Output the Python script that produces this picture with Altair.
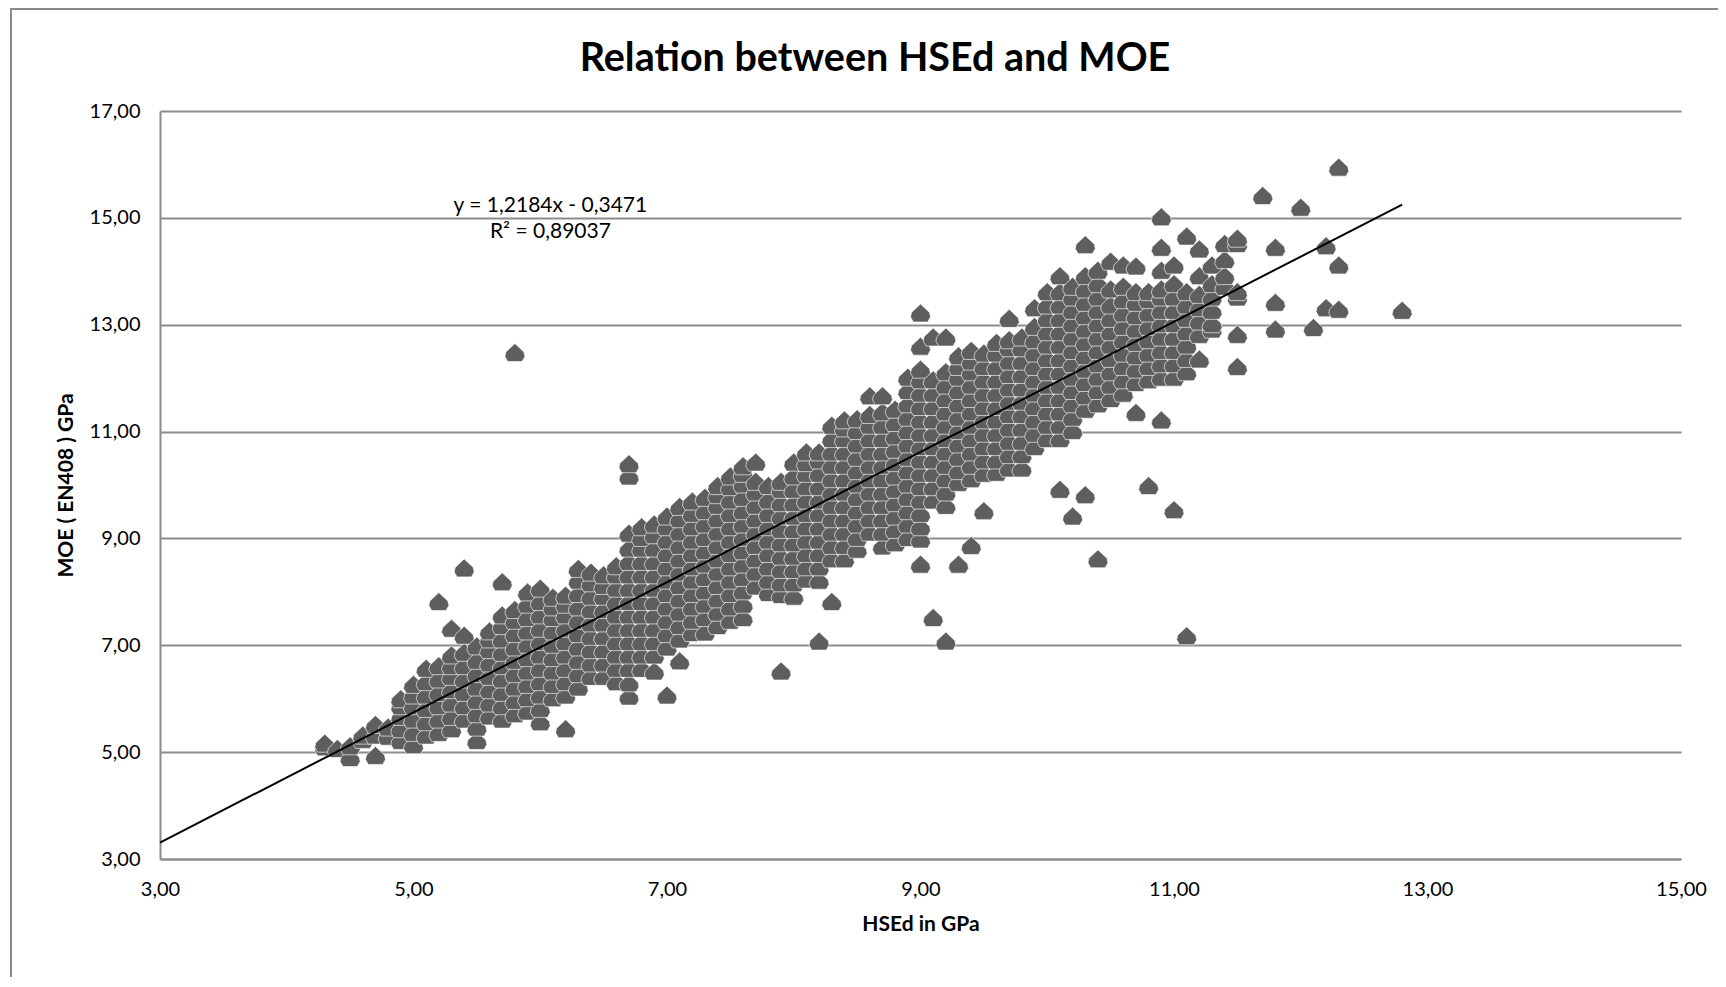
import altair as alt
import pandas as pd

# ---- data (HSEd column value -> MOE values) ----
hsed_columns = [4.3, 4.4, 4.5, 4.6, 4.7, 4.8, 4.9, 5.0, 5.1, 5.2, 5.3, 5.4, 5.5, 5.6, 5.7, 5.8, 5.9,
                6.0, 6.1, 6.2, 6.3, 6.4, 6.5, 6.6, 6.7, 6.8, 6.9, 7.0, 7.1, 7.2, 7.3, 7.4, 7.5, 7.6,
                7.7, 7.8, 7.9, 8.0, 8.1, 8.2, 8.3, 8.4, 8.5, 8.6, 8.7, 8.8, 8.9, 9.0, 9.1, 9.2, 9.3,
                9.4, 9.5, 9.6, 9.7, 9.8, 9.9, 10.0, 10.1, 10.2, 10.3, 10.4, 10.5, 10.6, 10.7, 10.8,
                10.9, 11.0, 11.1, 11.2, 11.3, 11.4, 11.5, 11.7, 11.8, 12.0, 12.1, 12.2, 12.3, 12.8]

moe_columns = [
    [5.08, 5.15],
    [5.05],
    [4.88, 5.10],
    [5.22, 5.30],
    [4.92, 5.30, 5.50],
    [5.28, 5.45],
    [5.20, 5.42, 5.65, 5.85, 5.98],
    [5.12, 5.35, 5.60, 5.85, 6.05, 6.25],
    [5.30, 5.55, 5.80, 6.05, 6.30, 6.55],
    [5.35, 5.60, 5.85, 6.10, 6.35, 6.60, 7.80],
    [5.42, 5.65, 5.90, 6.15, 6.40, 6.60, 6.80, 7.30],
    [5.60, 5.85, 6.10, 6.35, 6.60, 6.85, 7.17, 8.43],
    [5.20, 5.45, 5.70, 5.95, 6.20, 6.45, 6.70, 6.97],
    [5.66, 5.90, 6.15, 6.40, 6.65, 6.90, 7.10, 7.25],
    [5.60, 5.85, 6.10, 6.35, 6.60, 6.85, 7.10, 7.35, 7.55, 8.17],
    [5.70, 5.95, 6.20, 6.45, 6.70, 6.95, 7.20, 7.45, 7.65, 12.46],
    [5.75, 6.00, 6.25, 6.50, 6.75, 7.00, 7.25, 7.50, 7.75, 7.98],
    [5.55, 5.80, 6.05, 6.30, 6.55, 6.80, 7.05, 7.30, 7.55, 7.80, 8.05],
    [6.00, 6.25, 6.50, 6.75, 7.00, 7.25, 7.50, 7.70, 7.88],
    [5.42, 6.05, 6.30, 6.55, 6.80, 7.05, 7.30, 7.55, 7.75, 7.92],
    [6.20, 6.45, 6.70, 6.95, 7.20, 7.45, 7.70, 7.95, 8.20, 8.42],
    [6.40, 6.65, 6.90, 7.15, 7.40, 7.65, 7.90, 8.15, 8.35],
    [6.40, 6.65, 6.90, 7.15, 7.40, 7.65, 7.90, 8.10, 8.30],
    [6.30, 6.55, 6.80, 7.05, 7.30, 7.55, 7.80, 8.05, 8.30, 8.47],
    [6.03, 6.28, 6.55, 6.80, 7.05, 7.30, 7.55, 7.80, 8.05, 8.30, 8.55, 8.80, 9.08, 10.15, 10.38],
    [6.55, 6.80, 7.05, 7.30, 7.55, 7.80, 8.05, 8.30, 8.55, 8.80, 9.00, 9.20],
    [6.50, 6.80, 7.05, 7.30, 7.55, 7.80, 8.05, 8.30, 8.55, 8.80, 9.05, 9.25],
    [6.05, 6.95, 7.20, 7.45, 7.70, 7.95, 8.20, 8.45, 8.70, 8.95, 9.20, 9.40],
    [6.69, 7.10, 7.35, 7.60, 7.85, 8.10, 8.35, 8.60, 8.85, 9.10, 9.35, 9.58],
    [7.22, 7.45, 7.70, 7.95, 8.20, 8.45, 8.70, 8.95, 9.20, 9.45, 9.68],
    [7.23, 7.50, 7.75, 8.00, 8.25, 8.50, 8.75, 9.00, 9.25, 9.50, 9.75],
    [7.35, 7.60, 7.85, 8.10, 8.35, 8.60, 8.85, 9.10, 9.35, 9.60, 9.80, 9.97],
    [7.45, 7.70, 7.95, 8.20, 8.45, 8.70, 8.95, 9.20, 9.45, 9.70, 9.95, 10.15],
    [7.50, 7.75, 8.00, 8.25, 8.50, 8.75, 9.00, 9.25, 9.50, 9.75, 10.00, 10.20, 10.34],
    [8.09, 8.35, 8.60, 8.85, 9.10, 9.35, 9.60, 9.85, 10.05, 10.41],
    [7.97, 8.20, 8.45, 8.70, 8.95, 9.20, 9.45, 9.70, 9.97],
    [6.50, 7.93, 8.15, 8.40, 8.65, 8.90, 9.15, 9.40, 9.65, 9.90, 10.05],
    [7.90, 8.15, 8.40, 8.65, 8.90, 9.15, 9.40, 9.65, 9.90, 10.15, 10.41],
    [8.22, 8.45, 8.70, 8.95, 9.20, 9.45, 9.70, 9.95, 10.20, 10.40, 10.60],
    [7.06, 8.20, 8.45, 8.70, 8.95, 9.20, 9.45, 9.70, 9.95, 10.20, 10.45, 10.60],
    [7.80, 8.60, 8.85, 9.10, 9.35, 9.60, 9.85, 10.10, 10.35, 10.60, 10.85, 11.10],
    [8.60, 8.85, 9.10, 9.35, 9.60, 9.85, 10.10, 10.35, 10.60, 10.85, 11.05, 11.20],
    [8.78, 9.00, 9.25, 9.50, 9.75, 10.00, 10.25, 10.50, 10.75, 11.00, 11.22],
    [9.10, 9.35, 9.60, 9.85, 10.10, 10.35, 10.60, 10.85, 11.10, 11.30, 11.65],
    [8.84, 9.10, 9.35, 9.60, 9.85, 10.10, 10.35, 10.60, 10.85, 11.10, 11.35, 11.65],
    [8.90, 9.15, 9.40, 9.65, 9.90, 10.15, 10.40, 10.65, 10.90, 11.15, 11.40],
    [9.00, 9.25, 9.50, 9.75, 10.00, 10.25, 10.50, 10.75, 11.00, 11.25, 11.50, 11.75, 12.00],
    [8.50, 8.97, 9.20, 9.45, 9.70, 9.95, 10.20, 10.45, 10.70, 10.95, 11.20, 11.45, 11.70, 11.95, 12.15, 12.58, 13.20],
    [7.50, 9.70, 9.95, 10.20, 10.45, 10.70, 10.95, 11.20, 11.45, 11.70, 11.95, 12.75],
    [7.06, 9.60, 9.85, 10.10, 10.35, 10.60, 10.85, 11.10, 11.35, 11.60, 11.85, 12.10, 12.75],
    [8.50, 10.03, 10.25, 10.50, 10.75, 11.00, 11.25, 11.50, 11.75, 12.00, 12.20, 12.40],
    [8.85, 10.10, 10.35, 10.60, 10.85, 11.10, 11.35, 11.60, 11.85, 12.10, 12.30, 12.50],
    [9.50, 10.20, 10.45, 10.70, 10.95, 11.20, 11.45, 11.70, 11.95, 12.20, 12.45],
    [10.22, 10.45, 10.70, 10.95, 11.20, 11.45, 11.70, 11.95, 12.20, 12.45, 12.65],
    [10.30, 10.55, 10.80, 11.05, 11.30, 11.55, 11.80, 12.05, 12.30, 12.55, 12.70, 13.10],
    [10.30, 10.55, 10.80, 11.05, 11.30, 11.55, 11.80, 12.05, 12.30, 12.55, 12.75],
    [10.70, 10.95, 11.20, 11.45, 11.70, 11.95, 12.20, 12.45, 12.70, 12.95, 13.30],
    [10.85, 11.10, 11.35, 11.60, 11.85, 12.10, 12.35, 12.60, 12.85, 13.10, 13.35, 13.60],
    [9.90, 10.85, 11.10, 11.35, 11.60, 11.85, 12.10, 12.35, 12.60, 12.85, 13.10, 13.35, 13.60, 13.90],
    [9.40, 11.00, 11.25, 11.50, 11.75, 12.00, 12.25, 12.50, 12.75, 13.00, 13.25, 13.50, 13.70],
    [9.80, 11.40, 11.65, 11.90, 12.15, 12.40, 12.65, 12.90, 13.15, 13.40, 13.65, 13.90, 14.48],
    [8.60, 11.50, 11.75, 12.00, 12.25, 12.50, 12.75, 13.00, 13.25, 13.50, 13.75, 14.00],
    [11.60, 11.85, 12.10, 12.35, 12.60, 12.85, 13.10, 13.35, 13.65, 14.17],
    [11.70, 11.95, 12.20, 12.45, 12.70, 12.95, 13.20, 13.45, 13.70, 14.10],
    [11.34, 11.90, 12.15, 12.40, 12.65, 12.90, 13.15, 13.40, 13.60, 14.08],
    [9.97, 11.95, 12.20, 12.45, 12.70, 12.95, 13.20, 13.45, 13.60],
    [11.20, 12.00, 12.25, 12.50, 12.75, 13.00, 13.25, 13.50, 13.65, 14.00, 14.43, 15.00],
    [9.52, 12.00, 12.25, 12.50, 12.75, 13.00, 13.25, 13.50, 13.75, 14.10],
    [7.16, 12.10, 12.35, 12.60, 12.85, 13.10, 13.35, 13.60, 14.64],
    [12.34, 12.80, 13.05, 13.30, 13.55, 13.90, 14.40],
    [12.90, 13.00, 13.25, 13.50, 13.75, 14.10],
    [13.70, 13.90, 14.20, 14.50],
    [12.20, 12.80, 13.50, 13.60, 14.50, 14.60],
    [15.40],
    [12.90, 13.40, 14.43],
    [15.18],
    [12.93],
    [13.30, 14.46],
    [13.27, 14.10, 15.93],
    [13.25],
]

trend_x = [3.0, 12.8]
slope, intercept = 1.2184, -0.3471
equation_lines = ["y = 1,2184x - 0,3471", "R² = 0,89037"]
equation_x = [6.08, 6.08]
equation_y = [15.22, 14.74]
tick_values = [3, 5, 7, 9, 11, 13, 15]
y_tick_values = [3, 5, 7, 9, 11, 13, 15, 17]

rows = [{"HSEd": x, "MOE": y} for x, ys in zip(hsed_columns, moe_columns) for y in ys]
points_df = pd.DataFrame(rows)
trend_df = pd.DataFrame({"HSEd": trend_x, "MOE": [slope * v + intercept for v in trend_x]})
eq_df = pd.DataFrame({"HSEd": equation_x, "MOE": equation_y, "label": equation_lines})

FONT = "Lato"
GRID = "#8c8c8c"
label_expr = "replace(format(datum.value, '.2f'), '.', ',')"

xscale = alt.Scale(domain=[3, 15], nice=False, zero=False)
yscale = alt.Scale(domain=[3, 17], nice=False, zero=False)

spade = "M0,-1L0.9,-0.15L1,0.3L0.72,0.8L-0.72,0.8L-1,0.3L-0.9,-0.15Z"

points = alt.Chart(points_df).mark_point(
    shape=spade, size=400, filled=True, fill="#5e5e5e", opacity=1,
    stroke="white", strokeWidth=0.7, strokeOpacity=0.9
).encode(
    x=alt.X("HSEd:Q", scale=xscale,
            axis=alt.Axis(values=tick_values, labelExpr=label_expr, title="HSEd in GPa",
                          grid=False, ticks=False, labelFlush=False,
                          labelPadding=20, titlePadding=14)),
    y=alt.Y("MOE:Q", scale=yscale,
            axis=alt.Axis(values=y_tick_values, labelExpr=label_expr, title="MOE ( EN408 ) GPa",
                          grid=True, ticks=False, labelFlush=False,
                          labelPadding=20, titlePadding=13)),
)

trend = alt.Chart(trend_df).mark_line(color="black", strokeWidth=2).encode(
    x=alt.X("HSEd:Q", scale=xscale), y=alt.Y("MOE:Q", scale=yscale)
)

eq = alt.Chart(eq_df).mark_text(font=FONT, fontSize=21, color="black", align="center", baseline="middle").encode(
    x=alt.X("HSEd:Q", scale=xscale), y=alt.Y("MOE:Q", scale=yscale), text="label:N"
)

frame = alt.Chart(pd.DataFrame({"k": [0]})).mark_rect(
    fill=None, stroke="#8a8a8a", strokeWidth=2
).encode(x=alt.value(-149), x2=alt.value(1600), y=alt.value(-102), y2=alt.value(940))

title = alt.Chart(pd.DataFrame({"t": ["Relation between HSEd and MOE"]})).mark_text(
    font=FONT, fontSize=39.5, fontWeight="bold", color="black", align="center", baseline="middle"
).encode(x=alt.value(715), y=alt.value(-52), text="t:N")

chart = alt.layer(frame, points, trend, eq, title).properties(
    width=1521, height=748,
    autosize=alt.AutoSizeParams(type="none"),
    padding={"left": 152, "top": 103, "right": 37, "bottom": 118},
).configure_view(stroke=None).configure_axis(
    labelFont=FONT, labelFontSize=20, labelColor="black",
    titleFont=FONT, titleFontSize=21, titleFontWeight="bold", titleColor="black",
    domainColor=GRID, domainWidth=2, gridColor=GRID, gridWidth=2,
)

chart.save("out.html", embed_options={"renderer": "svg", "actions": False})
